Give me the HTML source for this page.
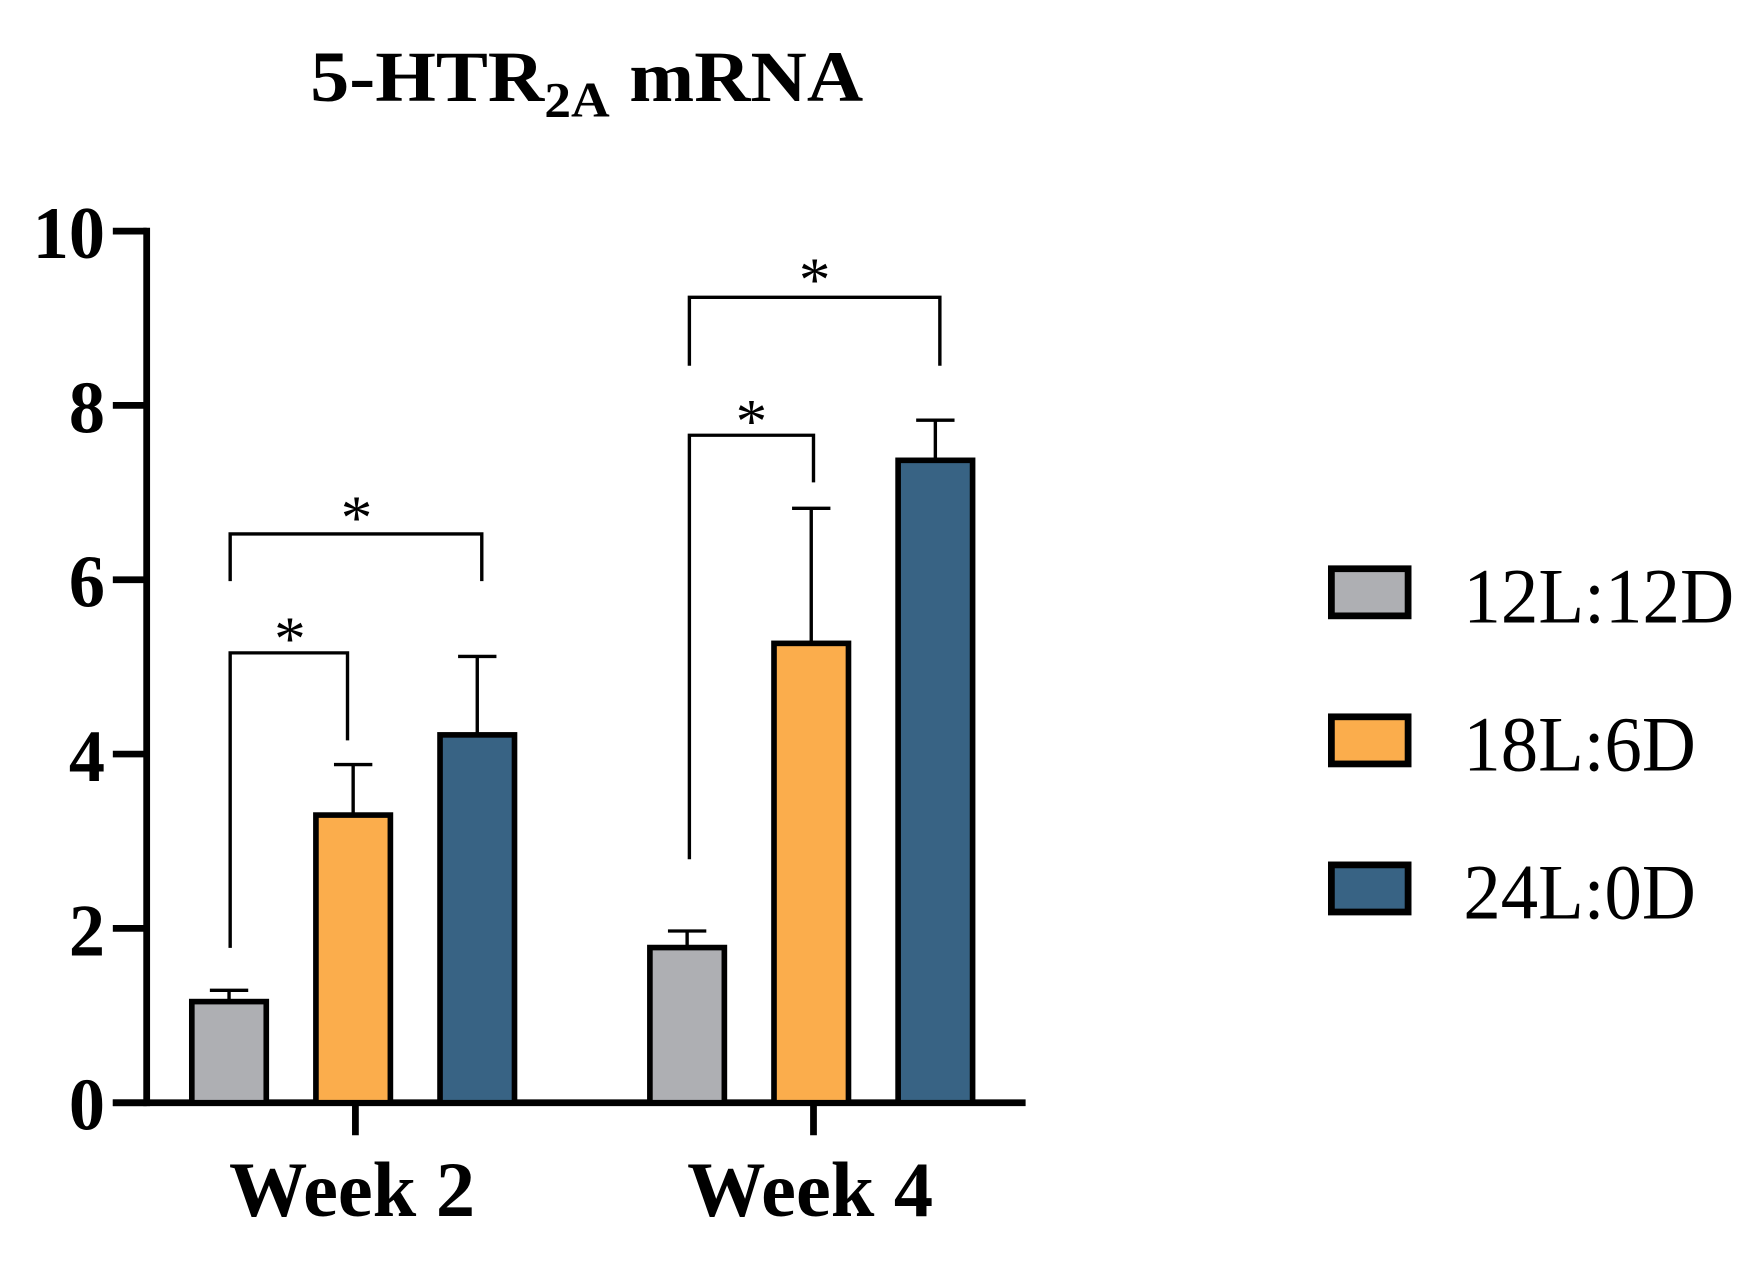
<!DOCTYPE html>
<html><head><meta charset="utf-8"><style>html,body{margin:0;padding:0;background:#fff}svg{display:block}</style></head>
<body>
<svg id="chart" width="1759" height="1262" viewBox="0 0 1559 1125" preserveAspectRatio="none" xmlns="http://www.w3.org/2000/svg" font-family="'Liberation Serif', serif">
<text x="275" y="90" font-size="64" font-weight="bold" textLength="490" lengthAdjust="spacingAndGlyphs">5-HTR<tspan font-size="44" dy="14">2A</tspan><tspan dy="-14"> mRNA</tspan></text>
<g id="axes"></g>
<g id="bars"></g>
<g id="sig"></g>
<g id="legend"></g>
</svg>
<script>
const groups = ["Week 2", "Week 4"];
const seriesNames = ["12L:12D", "18L:6D", "24L:0D"];
const colors = ["#aeafb3", "#fbad4c", "#386384"];
const means = [[1.16, 1.78], [3.3, 5.27], [4.22, 7.37]];
const errors = [[0.13, 0.19], [0.58, 1.55], [0.9, 0.46]];
const yTicks = [0, 2, 4, 6, 8, 10];
const NS = "http://www.w3.org/2000/svg";
const y0 = 983, yTop = 206, yMax = 10;
const y = v => y0 - (y0 - yTop) * v / yMax;
const groupCenter = [315, 721];
const barOffset = [-110, 0, 110];
const barW = 66;
const x = (g, s) => groupCenter[g] + barOffset[s] - 2;
function mk(tag, attrs, parent) {
  const e = document.createElementNS(NS, tag);
  for (const k in attrs) e.setAttribute(k, attrs[k]);
  parent.appendChild(e);
  return e;
}
const axes = document.getElementById("axes");
const bars = document.getElementById("bars");
const sig = document.getElementById("sig");
const legend = document.getElementById("legend");
let a = mk("line", {x1:130, y1:y(10)-3, x2:130, y2:y0+3, stroke:"#000", "stroke-width":6}, axes);


a = mk("line", {x1:100, y1:y0, x2:909, y2:y0, stroke:"#000", "stroke-width":6}, axes);


yTicks.forEach(t => {
  const l = mk("line", {x1:100, y1:y(t), x2:130, y2:y(t), stroke:"#000", "stroke-width":6}, axes);
  
  
  const tx = mk("text", {x:93, y:y(t)+24, "text-anchor":"end", "font-size":66, "font-weight":"bold", "textLength": String(t).length*32, "lengthAdjust":"spacingAndGlyphs"}, axes);
  tx.textContent = t;
  
  
});
groups.forEach((g, gi) => {
  const l = mk("line", {x1:groupCenter[gi], y1:y0, x2:groupCenter[gi], y2:1012, stroke:"#000", "stroke-width":6}, axes);
  
  
  const tx = mk("text", {x:groupCenter[gi]-3, y:1084, "text-anchor":"middle", "font-size":70, "font-weight":"bold", "textLength":218, "lengthAdjust":"spacingAndGlyphs"}, axes);
  tx.textContent = g;
  
  
});
seriesNames.forEach((s, si) => {
  groups.forEach((g, gi) => {
    const cx = x(gi, si), top = y(means[si][gi]), et = y(means[si][gi] + errors[si][gi]);
    const e = mk("line", {x1:cx, y1:top, x2:cx, y2:et, stroke:"#000", "stroke-width":3}, bars);
    
    
    const c = mk("line", {x1:cx-17, y1:et, x2:cx+17, y2:et, stroke:"#000", "stroke-width":3}, bars);
    
    
    const r = mk("rect", {x:cx-barW/2, y:top, width:barW, height:y0-top, fill:colors[si], stroke:"#000", "stroke-width":5}, bars);
    
    
  });
  const ly = 507 + si * 132;
  const lb = mk("rect", {x:1180, y:ly, width:68, height:42, fill:colors[si], stroke:"#000", "stroke-width":6}, legend);
  
  
  const lt = mk("text", {x:1297, y:ly+48, "font-size":70, "textLength": [240, 206, 206][si], "lengthAdjust":"spacingAndGlyphs"}, legend);
  lt.textContent = s;
  
  
});
function bracket(x1, yl, x2, yr, yb, sx, sy) {
  const p = mk("path", {d:`M${x1},${yl} V${yb} H${x2} V${yr}`, fill:"none", stroke:"#000", "stroke-width":3}, sig);
  
  
  const t = mk("text", {x:sx, y:sy, "text-anchor":"middle", "font-size":56}, sig);
  t.textContent = "*";
  
  
}
bracket(204, 845, 308, 660, 582, 257, 588);
bracket(204, 518, 427, 518, 476, 316, 480);
bracket(611, 766, 721, 430, 388, 666, 394);
bracket(611, 326, 833, 326, 265, 722, 268);
</script>
</body></html>
